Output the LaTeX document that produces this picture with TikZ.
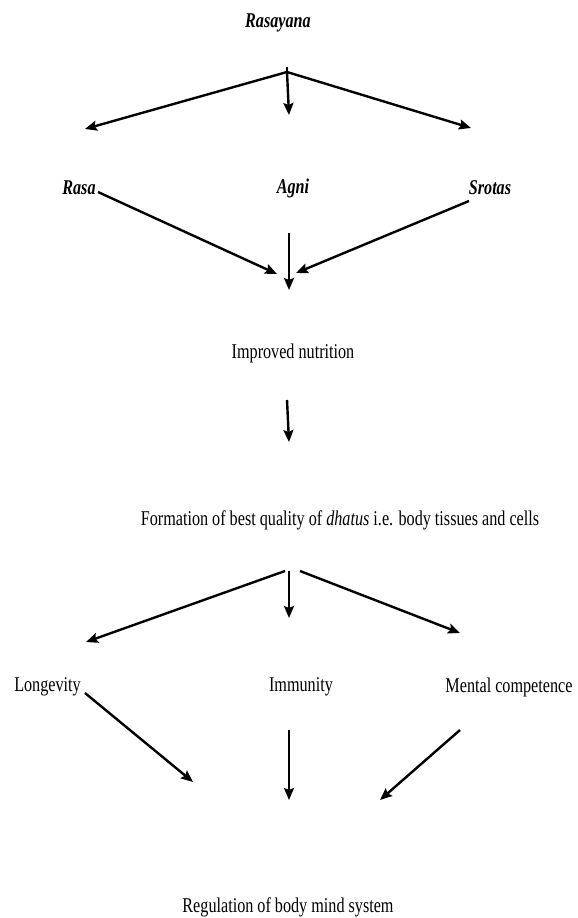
\documentclass[tikz,border=0pt]{standalone}
\usepackage{fontspec}
\setmainfont[FakeStretch=0.77]{Liberation Serif}
\usepackage{tikz}
\usetikzlibrary{arrows.meta}

\begin{document}
\begin{tikzpicture}[x=1pt,y=-1pt,
        lbl/.style={inner sep=0pt,font=\fontsize{21}{25}\selectfont},
        key/.style={lbl,font=\fontsize{21}{25}\selectfont\bfseries\itshape},
        arr/.style={line width=2.4pt,-{Stealth[length=12pt,width=10pt,inset=2pt]}}]
        \useasboundingbox (0,0) rectangle (578,918);
        % top level
        \node [key] (rasayana) at (278,23) {Rasayana};
        \node [key] (rasa) at (79,188) {Rasa};
        \node [key] (agni) at (293,188) {Agni};
        \node [key] (srotas) at (490,188) {Srotas};
        \node [lbl] (nutrition) at (293,353) {Improved nutrition};
        \node [lbl] (dhatus) at (340,520) {Formation of best quality of \emph{dhatus} i.e. body tissues and cells};
        \node [lbl] (longevity) at (47.5,687) {Longevity};
        \node [lbl] (immunity) at (301,687) {Immunity};
        \node [lbl] (mental) at (509,687) {Mental competence};
        \node [lbl] (regulation) at (288,907) {Regulation of body mind system};
        % fork points and arrow ends
        \coordinate (hubtop) at (287,67);
        \coordinate (hub) at (287,72);
        \coordinate (toRasa) at (85,129);
        \coordinate (toAgni) at (289,115);
        \coordinate (toSrotas) at (471,128);
        \coordinate (rasaOut) at (98,192);
        \coordinate (rasaIn) at (277,274);
        \coordinate (agniOut) at (289,233);
        \coordinate (agniIn) at (289,290);
        \coordinate (srotasOut) at (469,201);
        \coordinate (srotasIn) at (296,273);
        \coordinate (nutOut) at (287,400);
        \coordinate (nutIn) at (289,442);
        \coordinate (hubL) at (285,571);
        \coordinate (hubM) at (289,571);
        \coordinate (hubR) at (300,571);
        \coordinate (toLong) at (86,642);
        \coordinate (toImm) at (289,618);
        \coordinate (toMent) at (460,633);
        \coordinate (longOut) at (85,693);
        \coordinate (longIn) at (193,782);
        \coordinate (immOut) at (289,730);
        \coordinate (immIn) at (289,800);
        \coordinate (mentOut) at (460,730);
        \coordinate (mentIn) at (380,800);
        % connectors
        \draw [line width=2.4pt] (hubtop) -- (hub);
        \draw [arr] (hub) -- (toRasa);
        \draw [arr] (hub) -- (toAgni);
        \draw [arr] (hub) -- (toSrotas);
        \draw [arr] (rasaOut) -- (rasaIn);
        \draw [arr] (agniOut) -- (agniIn);
        \draw [arr] (srotasOut) -- (srotasIn);
        \draw [arr] (nutOut) -- (nutIn);
        \draw [arr] (hubL) -- (toLong);
        \draw [arr] (hubM) -- (toImm);
        \draw [arr] (hubR) -- (toMent);
        \draw [arr] (longOut) -- (longIn);
        \draw [arr] (immOut) -- (immIn);
        \draw [arr] (mentOut) -- (mentIn);
\end{tikzpicture}
\end{document}
